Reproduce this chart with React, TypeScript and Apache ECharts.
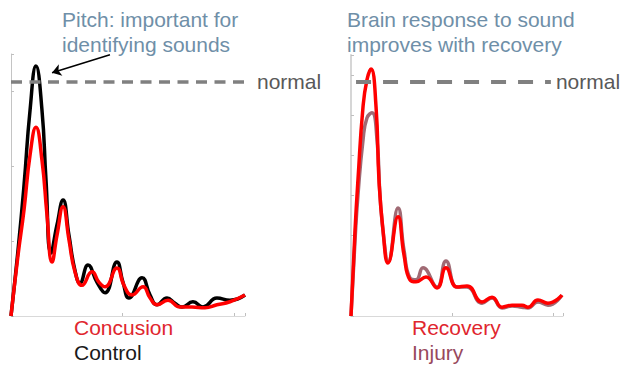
import React, { useEffect, useRef } from "react";
import * as echarts from "echarts";

// Left panel: pitch response (x in arbitrary units, y in arbitrary units)
const controlX = [0, 0.063, 0.117, 0.171, 0.224, 0.278, 0.314, 0.359, 0.413, 0.467, 0.52, 0.574, 0.619, 0.691, 0.772, 0.844, 0.951, 1.005, 1.059, 1.176, 1.248, 1.31, 1.4, 1.472, 1.535, 1.633, 1.723, 1.848, 1.965, 2.1];
const controlY = [0, 0.88, 1.75, 2.75, 3.34, 2.75, 1.82, 0.84, 1.22, 1.55, 1.08, 0.61, 0.44, 0.68, 0.45, 0.31, 0.72, 0.45, 0.24, 0.51, 0.28, 0.15, 0.24, 0.17, 0.12, 0.19, 0.12, 0.24, 0.21, 0.28];
const concussionX = [0, 0.063, 0.117, 0.171, 0.224, 0.278, 0.323, 0.368, 0.413, 0.467, 0.52, 0.574, 0.637, 0.727, 0.79, 0.844, 0.951, 1.014, 1.086, 1.185, 1.248, 1.31, 1.409, 1.517, 1.624, 1.741, 1.848, 1.965, 2.1];
const concussionY = [0, 0.81, 1.42, 2.15, 2.52, 2.08, 1.35, 0.72, 1.08, 1.46, 1.02, 0.59, 0.41, 0.59, 0.45, 0.39, 0.64, 0.41, 0.28, 0.39, 0.24, 0.15, 0.21, 0.12, 0.12, 0.11, 0.15, 0.19, 0.28];
const leftNormal = 3.13;

// Right panel: recovery vs injury
const recoveryX = [0, 0.04, 0.069, 0.119, 0.158, 0.198, 0.248, 0.277, 0.317, 0.367, 0.466, 0.525, 0.584, 0.644, 0.743, 0.852, 0.941, 1.05, 1.149, 1.298, 1.397, 1.496, 1.595, 1.694, 1.753, 1.852, 1.951, 2.09];
const recoveryY = [0, 2.14, 3.39, 5.21, 5.88, 6.15, 5.21, 3.39, 2.14, 1.32, 2.47, 1.52, 0.9, 0.85, 0.97, 0.7, 1.2, 0.72, 0.75, 0.35, 0.47, 0.22, 0.27, 0.27, 0.22, 0.4, 0.32, 0.52];
const injuryX = [0, 0.04, 0.069, 0.119, 0.158, 0.208, 0.258, 0.287, 0.327, 0.367, 0.466, 0.525, 0.584, 0.644, 0.713, 0.852, 0.941, 1.05, 1.149, 1.298, 1.397, 1.496, 1.595, 1.694, 1.753, 1.852, 1.951, 2.09];
const injuryY = [0, 1.89, 3.01, 4.38, 4.93, 5.06, 4.38, 3.01, 1.89, 1.35, 2.69, 1.64, 0.95, 0.9, 1.2, 0.72, 1.37, 0.72, 0.72, 0.32, 0.45, 0.2, 0.25, 0.22, 0.2, 0.35, 0.27, 0.52];
const rightNormal = 5.83;

const titles = ["Pitch: important for\nidentifying sounds", "Brain response to sound\nimproves with recovery"];
const leftLabels = ["Concusion", "Control"];
const rightLabels = ["Recovery", "Injury"];

const zip = (xs: number[], ys: number[]) => xs.map((x, i) => [x, ys[i]]);

const FONT = "Liberation Sans, Arial, sans-serif";

export default function App() {
  const ref = useRef<HTMLDivElement>(null);
  useEffect(() => {
    if (!ref.current) return;
    const chart = echarts.init(ref.current, undefined, { renderer: "svg" });
    const axisCommon = {
      axisLabel: { show: false },
      splitLine: { show: false },
      axisTick: { show: true, inside: true, length: 3, lineStyle: { color: "#bfbfbf" } },
    };
    const xAxis = (gridIndex: number) => ({
      type: "value",
      gridIndex,
      min: 0,
      max: 2.1,
      interval: 1,
      ...axisCommon,
      axisLine: { show: true, lineStyle: { color: "#d9d9d9", width: 1 } },
    });
    chart.setOption({
      animation: false,
      textStyle: { fontFamily: FONT },
      title: [
        {
          text: titles[0],
          left: 62,
          top: 7,
          padding: 0,
          textStyle: { fontSize: 21, lineHeight: 25, color: "#6f8fa8", fontWeight: "normal", fontFamily: FONT },
        },
        {
          text: titles[1],
          left: 347,
          top: 7,
          padding: 0,
          textStyle: { fontSize: 21, lineHeight: 25, color: "#6f8fa8", fontWeight: "normal", fontFamily: FONT },
        },
      ],
      grid: [
        { left: 11, top: 54, width: 234, height: 262 },
        { left: 351, top: 55, width: 212, height: 261 },
      ],
      xAxis: [xAxis(0), xAxis(1)],
      yAxis: [
        {
          type: "value",
          gridIndex: 0,
          min: 0,
          max: 3.5,
          interval: 1,
          ...axisCommon,
          axisLine: { show: true, lineStyle: { color: "#c4c4c4", width: 1 } },
        },
        {
          type: "value",
          gridIndex: 1,
          min: 0,
          max: 6.5,
          interval: 1,
          ...axisCommon,
          axisLine: { show: true, lineStyle: { color: "#d6d6d6", width: 2 } },
        },
      ],
      graphic: [
        { type: "text", left: 74, top: 317, style: { text: leftLabels[0], fill: "#e0262e", font: `21px ${FONT}` } },
        { type: "text", left: 74, top: 342, style: { text: leftLabels[1], fill: "#1a1a1a", font: `21px ${FONT}` } },
        { type: "text", left: 412, top: 317, style: { text: rightLabels[0], fill: "#e0262e", font: `21px ${FONT}` } },
        { type: "text", left: 412, top: 342, style: { text: rightLabels[1], fill: "#98485c", font: `21px ${FONT}` } },
      ],
      series: [
        {
          type: "line",
          name: "Control",
          xAxisIndex: 0,
          yAxisIndex: 0,
          data: zip(controlX, controlY),
          smooth: 0.5,
          showSymbol: false,
          symbol: "none",
          lineStyle: { color: "#000", width: 3.5 },
          z: 2,
          markLine: {
            silent: true,
            symbol: ["none", "none"],
            animation: false,
            data: [
              [
                { coord: [0, leftNormal] },
                { coord: [2.1, leftNormal] },
              ],
            ],
            lineStyle: { color: "#808080", width: 3.5, type: [11, 7.5] },
            label: {
              show: true,
              position: "end",
              formatter: "normal",
              distance: 12,
              color: "#595959",
              fontSize: 21,
              fontFamily: FONT,
            },
          },
        },
        {
          type: "line",
          name: "Concusion",
          xAxisIndex: 0,
          yAxisIndex: 0,
          data: zip(concussionX, concussionY),
          smooth: 0.5,
          showSymbol: false,
          symbol: "none",
          lineStyle: { color: "#ff0000", width: 3.5 },
          z: 3,
          markLine: {
            silent: true,
            symbol: ["none", "arrow"],
            symbolSize: 9,
            animation: false,
            data: [
              [
                { coord: [0.888, 3.49] },
                { coord: [0.368, 3.25] },
              ],
            ],
            lineStyle: { color: "#000", width: 1.5, type: "solid" },
            label: { show: false },
          },
        },
        {
          type: "line",
          name: "Injury",
          xAxisIndex: 1,
          yAxisIndex: 1,
          data: zip(injuryX, injuryY),
          smooth: 0.5,
          showSymbol: false,
          symbol: "none",
          lineStyle: { color: "#a06a74", width: 3.5 },
          z: 2,
          markLine: {
            silent: true,
            symbol: ["none", "none"],
            animation: false,
            data: [
              [
                { coord: [0.05, rightNormal] },
                { coord: [1.98, rightNormal] },
              ],
            ],
            lineStyle: { color: "#808080", width: 4, type: [15, 12] },
            label: {
              show: true,
              position: "end",
              formatter: "normal",
              distance: 5,
              color: "#595959",
              fontSize: 21,
              fontFamily: FONT,
            },
          },
        },
        {
          type: "line",
          name: "Recovery",
          xAxisIndex: 1,
          yAxisIndex: 1,
          data: zip(recoveryX, recoveryY),
          smooth: 0.5,
          showSymbol: false,
          symbol: "none",
          lineStyle: { color: "#ff0000", width: 3.5 },
          z: 3,
        },
      ],
    });
    return () => chart.dispose();
  }, []);
  return (
    <div
      ref={ref}
      style={{ position: "fixed", left: 0, top: 0, width: 622, height: 367, background: "#fff" }}
    />
  );
}
